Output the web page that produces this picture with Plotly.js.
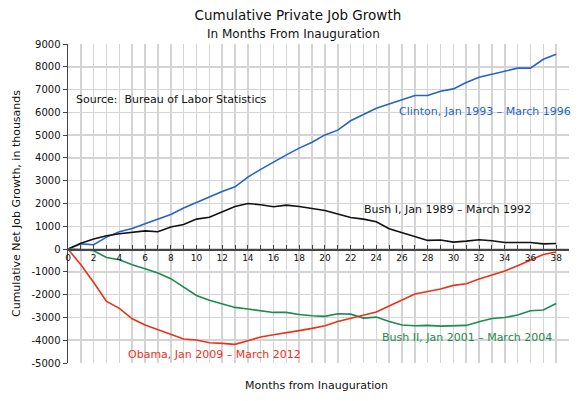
<!DOCTYPE html>
<html>
<head>
<meta charset="utf-8">
<script src="https://cdn.plot.ly/plotly-3.0.1.min.js"></script>
<style>html,body{margin:0;padding:0;background:#fff;}#chart{width:583px;height:401px;}</style>
</head>
<body>
<div id="chart"></div>
<script>
var months = [];
for (var i = 0; i <= 38; i++) months.push(i);

var clinton = [0,230,190,525,760,900,1110,1300,1520,1800,2045,2310,2530,2730,3160,3500,3830,4135,4430,4690,5010,5220,5630,5890,6180,6370,6560,6740,6740,6930,7030,7310,7540,7670,7820,7940,7940,8330,8550];
var bush1 = [0,260,440,585,670,730,800,760,965,1080,1315,1400,1650,1870,2000,1945,1855,1930,1870,1770,1695,1535,1385,1315,1200,890,730,540,380,395,305,350,410,365,290,290,290,230,245];
var bush2 = [0,-20,-75,-370,-470,-690,-865,-1055,-1300,-1670,-2035,-2250,-2415,-2560,-2630,-2720,-2780,-2780,-2870,-2925,-2955,-2840,-2855,-3030,-2985,-3175,-3335,-3365,-3350,-3380,-3380,-3350,-3190,-3045,-3000,-2895,-2705,-2675,-2385];
var obama = [0,-690,-1465,-2300,-2600,-3060,-3335,-3540,-3730,-3950,-3990,-4110,-4140,-4180,-4020,-3860,-3760,-3655,-3580,-3480,-3365,-3175,-3030,-2895,-2765,-2500,-2240,-1975,-1860,-1755,-1595,-1520,-1315,-1155,-965,-730,-485,-235,-130];

var yMin = -5000, yMax = 9000;
var yTickVals = [9000,8000,7000,6000,5000,4000,3000,2000,1000,0,-1000,-2000,-3000,-4000,-5000];
var yTickText = ["9000","8000","7000","6000","5000","4000","3000","2000","1000","0","-1000","-2000","-3000","-4000","-5000"];

var seriesNames = ["Clinton, Jan 1993 – March 1996","Bush I, Jan 1989 – March 1992","Bush II, Jan 2001 – March 2004","Obama, Jan 2009 – March 2012"];
var colors = ["#2563c4","#111111","#1d8a52","#e8321c"];
var values = [clinton, bush1, bush2, obama];
var xAxes = ['x', 'x', 'x', 'x2'];

var font = "DejaVu Sans, Verdana, sans-serif";
var gridCol = '#d4d4d4';
var zeroFrac = (0 - yMin) / (yMax - yMin);
var traces = values.map(function(v, k){
  return {x: months, y: v, xaxis: xAxes[k], yaxis: 'y', type: 'scatter', mode: 'lines', name: seriesNames[k],
          line: {color: colors[k], width: 1.6}, hoverinfo: 'skip'};
});

var layout = {
  width: 583, height: 401,
  margin: {l: 68, r: 14, t: 44, b: 38},
  paper_bgcolor: '#fff', plot_bgcolor: '#fff',
  showlegend: false,
  font: {family: font, color: '#111'},
  title: {text: 'Cumulative Private Job Growth', font: {size: 13.5, family: font, color: '#111'},
          x: 0.511, xref: 'container', y: 0.962, yref: 'container', xanchor: 'center', yanchor: 'middle'},
  xaxis: {
    range: [0, 39], anchor: 'y',
    tickmode: 'linear', tick0: 0, dtick: 1,
    ticks: '', showticklabels: false, showline: false,
    showgrid: true, gridcolor: gridCol, gridwidth: 1.5,
    zeroline: false, fixedrange: true
  },
  xaxis2: {
    range: [0, 39], matches: 'x', overlaying: 'x', anchor: 'free', position: zeroFrac, side: 'bottom',
    tickmode: 'linear', tick0: 0, dtick: 2,
    ticks: 'inside', ticklen: 4, tickcolor: '#444', tickwidth: 1,
    tickfont: {size: 9, family: font, color: '#111'},
    showline: true, linecolor: '#444', linewidth: 1.5,
    showgrid: false,
    minor: {dtick: 1, tick0: 0, ticks: 'inside', ticklen: 4, tickcolor: '#444', showgrid: false},
    zeroline: false, fixedrange: true
  },
  yaxis: {
    range: [yMin, yMax], anchor: 'x',
    tickmode: 'array', tickvals: yTickVals, ticktext: yTickText,
    ticks: 'outside', ticklen: 4, tickcolor: '#444',
    tickfont: {size: 10, family: font, color: '#111'},
    showline: true, linecolor: '#444', linewidth: 1.5,
    showgrid: true, gridcolor: gridCol, gridwidth: 1.5,
    zeroline: false,
    title: {text: 'Cumulative Net Job Growth, in thousands', font: {size: 11, family: font, color: '#111'}, standoff: 8},
    fixedrange: true
  },
  annotations: [
    {text: 'In Months From Inauguration', xref: 'paper', yref: 'paper', x: 0.451, y: 1.031,
     xanchor: 'center', yanchor: 'middle', showarrow: false, font: {size: 12, family: font, color: '#111'}},
    {text: 'Months from Inauguration', xref: 'paper', yref: 'paper', x: 0.496, y: -0.069,
     xanchor: 'center', yanchor: 'middle', showarrow: false, font: {size: 11, family: font, color: '#111'}},
    {text: 'Source:  Bureau of Labor Statistics', xref: 'x', yref: 'y', x: 0.5, y: 6550,
     xanchor: 'left', yanchor: 'middle', showarrow: false, font: {size: 11, family: font, color: '#111'}},
    {text: seriesNames[0], xref: 'paper', yref: 'y', x: 1.008, y: 6035,
     xanchor: 'right', yanchor: 'middle', showarrow: false, font: {size: 11, family: font, color: colors[0]}},
    {text: seriesNames[1], xref: 'x', yref: 'y', x: 22.9, y: 1724,
     xanchor: 'left', yanchor: 'middle', showarrow: false, font: {size: 11, family: font, color: colors[1]}},
    {text: seriesNames[2], xref: 'x', yref: 'y', x: 24.25, y: -3860,
     xanchor: 'left', yanchor: 'middle', showarrow: false, font: {size: 11, family: font, color: colors[2]}},
    {text: seriesNames[3], xref: 'x', yref: 'y', x: 4.5, y: -4605,
     xanchor: 'left', yanchor: 'middle', showarrow: false, font: {size: 11, family: font, color: colors[3]}}
  ]
};

Plotly.newPlot('chart', traces, layout, {displayModeBar: false, staticPlot: true});
</script>
</body>
</html>
